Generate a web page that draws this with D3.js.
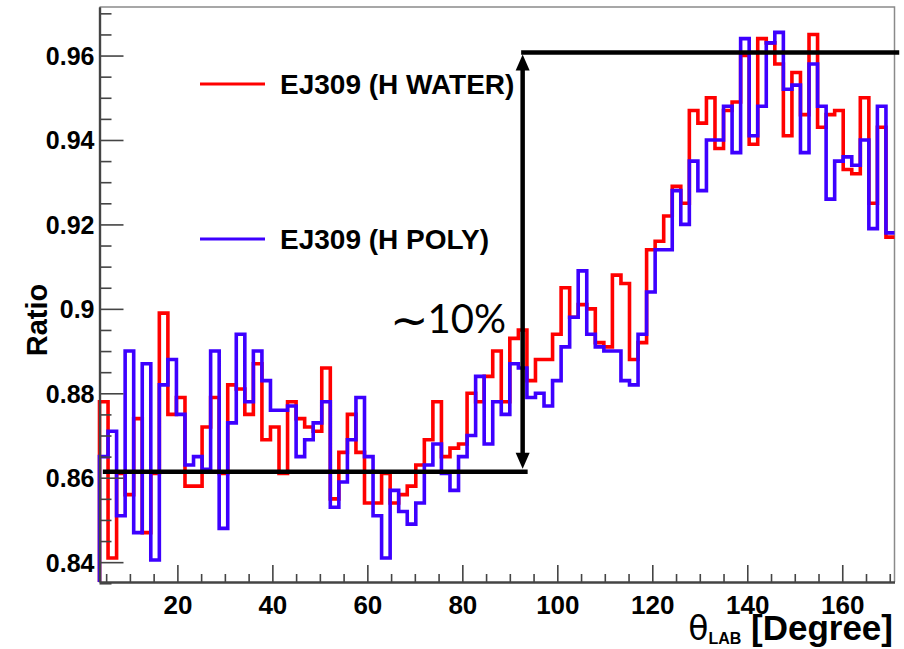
<!DOCTYPE html>
<html><head><meta charset="utf-8">
<script src="https://cdn.jsdelivr.net/npm/d3@7"></script>
<style>body{margin:0;background:#fff}svg{display:block}</style>
</head><body>
<script>
// ---- data ----
const binStart = 3.6;     // first bin low edge [deg]
const binWidth = 1.8;     // bin width [deg]
const water = [0.878,0.841,0.861,0.856,0.874,0.847,0.861,0.899,0.875,0.879,
  0.858,0.858,0.872,0.879,0.861,0.882,0.881,0.875,0.887,0.869,
  0.872,0.861,0.878,0.874,0.872,0.871,0.886,0.855,0.866,0.875,
  0.866,0.854,0.854,0.861,0.854,0.856,0.858,0.863,0.869,0.878,
  0.865,0.867,0.868,0.880,0.878,0.884,0.890,0.878,0.893,0.895,
  0.883,0.888,0.888,0.894,0.905,0.898,0.901,0.900,0.892,0.891,
  0.908,0.906,0.888,0.892,0.914,0.916,0.922,0.929,0.925,0.947,
  0.944,0.950,0.938,0.947,0.949,0.960,0.939,0.964,0.963,0.958,
  0.941,0.956,0.946,0.965,0.943,0.946,0.947,0.933,0.932,0.950,
  0.925,0.943,0.917];
const poly = [0.865,0.871,0.851,0.890,0.847,0.887,0.8405,0.882,0.888,0.875,
  0.863,0.865,0.862,0.890,0.848,0.873,0.894,0.878,0.890,0.883,
  0.876,0.876,0.877,0.865,0.869,0.873,0.878,0.853,0.859,0.869,
  0.879,0.865,0.851,0.841,0.857,0.852,0.849,0.854,0.863,0.868,
  0.861,0.857,0.865,0.870,0.884,0.868,0.878,0.875,0.887,0.886,
  0.879,0.880,0.877,0.883,0.891,0.898,0.909,0.894,0.891,0.890,
  0.890,0.883,0.882,0.894,0.904,0.914,0.914,0.928,0.920,0.935,
  0.928,0.940,0.940,0.948,0.937,0.964,0.941,0.948,0.963,0.9655,
  0.952,0.953,0.937,0.958,0.948,0.926,0.935,0.936,0.934,0.940,
  0.919,0.948,0.918];
const seriesNames = ["EJ309 (H WATER)", "EJ309 (H POLY)"];
const seriesColors = ["#ff0000", "#3d00ff"];
const xTickValues = [20,40,60,80,100,120,140,160];
const xTickLabels = ["20","40","60","80","100","120","140","160"];
const yTickValues = [0.84,0.86,0.88,0.90,0.92,0.94,0.96];
const yTickLabels = ["0.84","0.86","0.88","0.9","0.92","0.94","0.96"];
const lowLevel = 0.8614, highLevel = 0.9607;
const lowStart = 4.3, arrowTheta = 92.7, highEnd = 172.0;
const annotText = "10%";

// ---- layout ----
const W = 904, H = 649;
const L = 99.5, R = 894.5, T = 7, B = 582;
const svg = d3.select("body").append("svg").attr("width", W).attr("height", H);
const x = d3.scaleLinear().domain([3.6, 171]).range([L, R]);
const y = d3.scaleLinear().domain([0.8353, 0.9715]).range([B, T]);
const FONT = "'Liberation Sans', Arial, Helvetica, sans-serif";

// frame (top/right)
svg.append("path").attr("d", `M${L},${T}H${R}V${B}`)
  .attr("fill","none").attr("stroke","#8a8a8a").attr("stroke-width",1.5);

// histograms
function stepPoints(vals) {
  const pts = [[binStart, y.domain()[0]]];
  vals.forEach((v, i) => {
    pts.push([binStart + i*binWidth, v]);
    pts.push([binStart + (i+1)*binWidth, v]);
  });
  return pts;
}
const line = d3.line().x(d => x(d[0])).y(d => y(d[1]));
[water, poly].forEach((vals, k) => {
  svg.append("path").datum(stepPoints(vals)).attr("d", line)
    .attr("fill","none").attr("stroke", seriesColors[k])
    .attr("stroke-width", 3.6).attr("stroke-linejoin","miter");
});

// axes
const minorY = d3.range(0.835, 0.9716, 0.005).filter(v => !yTickValues.some(t => Math.abs(t-v) < 1e-6));
const minorX = d3.range(5, 171, 5).filter(v => v % 20 !== 0);

const gyMinor = svg.append("g").attr("transform", `translate(${L},0)`)
  .call(d3.axisLeft(y).tickValues(minorY).tickSizeInner(-12).tickSizeOuter(0).tickFormat(""));
const gy = svg.append("g").attr("transform", `translate(${L},0)`)
  .call(d3.axisLeft(y).tickValues(yTickValues).tickSizeInner(-24).tickSizeOuter(0).tickPadding(5)
    .tickFormat((d, i) => yTickLabels[i]));
const gxMinor = svg.append("g").attr("transform", `translate(0,${B})`)
  .call(d3.axisBottom(x).tickValues(minorX).tickSizeInner(-8).tickSizeOuter(0).tickFormat(""));
const gx = svg.append("g").attr("transform", `translate(0,${B})`)
  .call(d3.axisBottom(x).tickValues(xTickValues).tickSizeInner(-17).tickSizeOuter(0)
    .tickFormat((d, i) => xTickLabels[i]));

[gyMinor, gy, gxMinor, gx].forEach(g => {
  g.selectAll(".tick line").attr("stroke", "#444").attr("stroke-width", 1.6);
  g.select(".domain").attr("stroke", "#444").attr("stroke-width", 2.2);
});
gy.selectAll("text").attr("font-family", FONT).attr("font-weight","bold")
  .attr("font-size", 25).attr("fill","#000").attr("dy","0.36em");
gx.selectAll("text").attr("font-family", FONT).attr("font-weight","bold")
  .attr("font-size", 26).attr("fill","#000").attr("y", 32).attr("dy", null);

// axis titles
svg.append("text").attr("transform", "translate(47,320) rotate(-90)")
  .attr("text-anchor","middle").attr("font-family", FONT).attr("font-weight","bold")
  .attr("font-size", 29).text("Ratio");
const xt = svg.append("text").attr("x", 893).attr("y", 640).attr("text-anchor","end")
  .attr("font-family", FONT).attr("font-weight","bold").attr("font-size", 35);
xt.append("tspan").attr("font-family","'DejaVu Sans',sans-serif")
  .attr("font-weight","normal").attr("font-size", 33).text("θ");
xt.append("tspan").attr("font-size", 16).attr("dy", 4).text("LAB");
xt.append("tspan").attr("dy", -4).text(" [Degree]");

// legend
const legY = [84, 239];
seriesNames.forEach((name, k) => {
  svg.append("line").attr("x1", 200).attr("x2", 265).attr("y1", legY[k]).attr("y2", legY[k])
    .attr("stroke", seriesColors[k]).attr("stroke-width", 3);
  svg.append("text").attr("x", 280).attr("y", legY[k] + 9.5)
    .attr("font-family", FONT).attr("font-weight","bold").attr("font-size", 28)
    .text(name);
});

// annotation: levels and arrow
const ax = x(arrowTheta), yLo = y(lowLevel), yHi = y(highLevel);
svg.append("line").attr("x1", x(lowStart)).attr("x2", ax + 5).attr("y1", yLo).attr("y2", yLo)
  .attr("stroke","#000").attr("stroke-width", 4.5);
svg.append("line").attr("x1", ax - 1.5).attr("x2", x(highEnd)).attr("y1", yHi).attr("y2", yHi)
  .attr("stroke","#000").attr("stroke-width", 4.5);
svg.append("line").attr("x1", ax).attr("x2", ax).attr("y1", yHi + 14).attr("y2", yLo - 14)
  .attr("stroke","#000").attr("stroke-width", 4.5);
svg.append("path").attr("d", `M${ax},${yHi+2}L${ax-7},${yHi+18}L${ax+7},${yHi+18}Z`).attr("fill","#000");
svg.append("path").attr("d", `M${ax},${yLo-3}L${ax-7},${yLo-19}L${ax+7},${yLo-19}Z`).attr("fill","#000");

svg.append("text").attr("x", 390).attr("y", 336).attr("font-family","'DejaVu Sans',sans-serif")
  .attr("font-size", 46).text("∼");
svg.append("text").attr("x", 506).attr("y", 333).attr("text-anchor","end")
  .attr("font-family","Lato, 'Open Sans', sans-serif").attr("font-size", 40).text(annotText);
</script>
</body></html>
